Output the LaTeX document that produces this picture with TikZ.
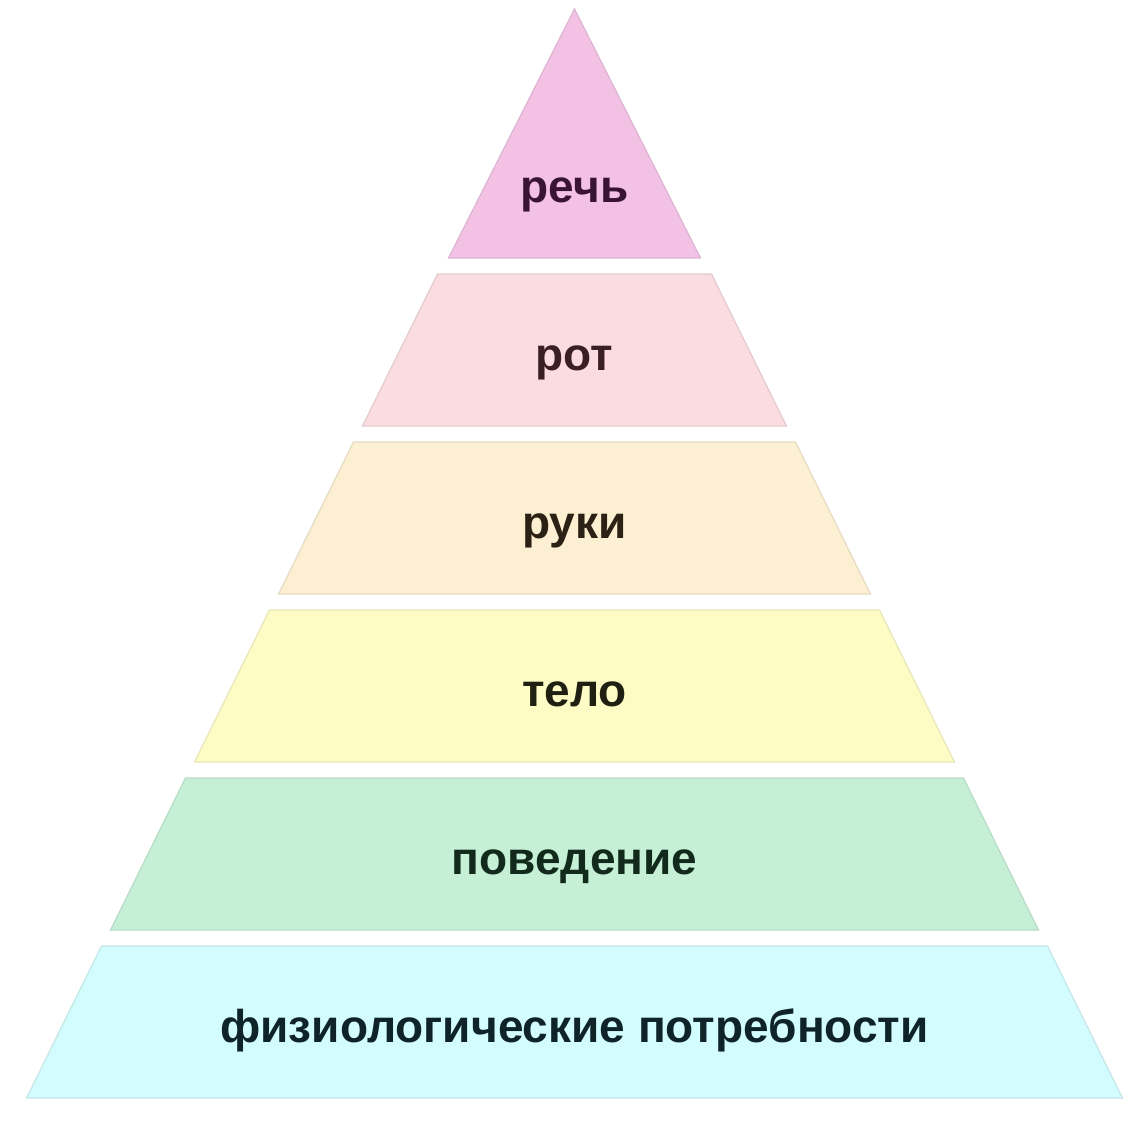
\documentclass[tikz,border=0pt]{standalone}
\usepackage{fontspec}
\setmainfont{Liberation Sans}

\definecolor{speechFill}{HTML}{F2C1E4}
\definecolor{mouthFill}{HTML}{FADCE1}
\definecolor{handsFill}{HTML}{FCEFD2}
\definecolor{bodyFill}{HTML}{FEFCC5}
\definecolor{behaviourFill}{HTML}{C5F0D6}
\definecolor{needsFill}{HTML}{D3FCFE}
\definecolor{speechText}{HTML}{3A1433}
\definecolor{mouthText}{HTML}{3A1F24}
\definecolor{handsText}{HTML}{2B2114}
\definecolor{bodyText}{HTML}{1F1F12}
\definecolor{behaviourText}{HTML}{122A1B}
\definecolor{needsText}{HTML}{0F2429}

\begin{document}
\begin{tikzpicture}[x=1pt,y=-1pt,
			layer/.style={line width=1.2pt},
			every node/.style={font=\fontsize{46}{55}\selectfont\bfseries, anchor=base, inner sep=0pt}]

			\useasboundingbox (0,0) rectangle (1146,1121);
			\fill[white] (0,0) rectangle (1146,1121);

			% top triangle
			\draw[layer, draw=speechFill!82!gray, fill=speechFill] (574.5,9) -- (700.5,258) -- (448.5,258) -- cycle;
			\node[text=speechText] (speech) at (574.5,202) {речь};

			% trapezoid layers
			\foreach \k/\name/\fillc/\textc/\lbl in {2/mouth/mouthFill/mouthText/рот,
					3/hands/handsFill/handsText/руки,
					4/body/bodyFill/bodyText/тело,
					5/behaviour/behaviourFill/behaviourText/поведение,
					6/needs/needsFill/needsText/физиологические потребности} {
				\pgfmathsetmacro\ytop{274+168*(\k-2)}
				\pgfmathsetmacro\ybot{\ytop+152}
				\pgfmathsetmacro\wtop{137+84*(\k-2)}
				\pgfmathsetmacro\wbot{\wtop+75}
				\draw[layer, draw=\fillc!82!gray, fill=\fillc] (574.5-\wtop,\ytop) -- (574.5+\wtop,\ytop)
					-- (574.5+\wbot,\ybot) -- (574.5-\wbot,\ybot) -- cycle;
				\node[text=\textc] (\name) at (574.5,\ytop+96) {\lbl};
			}

		\end{tikzpicture}
\end{document}
